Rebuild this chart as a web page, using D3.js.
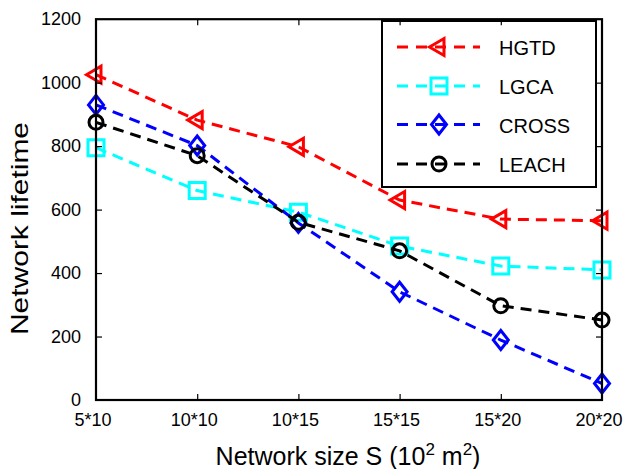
<!DOCTYPE html>
<html>
<head>
<meta charset="utf-8">
<script src="https://cdn.jsdelivr.net/npm/d3@7"></script>
<style>
  html, body { margin: 0; padding: 0; background: #fff; }
  svg { display: block; font-family: "Liberation Sans", Arial, Helvetica, sans-serif; }
</style>
</head>
<body>
<svg id="chart" width="624" height="469"></svg>
<script>
// ---- data ----
const categories = ["5*10", "10*10", "10*15", "15*15", "15*20", "20*20"];
const hgtd  = [1025, 882, 798, 630, 570, 565];
const lgca  = [795, 660, 592, 485, 422, 410];
const cross = [930, 802, 558, 341, 189, 52];
const leach = [875, 770, 560, 470, 297, 252];
const yTicks = [0, 200, 400, 600, 800, 1000, 1200];
const seriesNames = ["HGTD", "LGCA", "CROSS", "LEACH"];

// ---- layout ----
const L = 96, R = 602, T = 19.2, B = 400;
const svg = d3.select("#chart");

const x = d3.scalePoint().domain(categories).range([L, R]);
const y = d3.scaleLinear().domain([0, 1200]).range([B, T]);

const series = [
  { name: seriesNames[0], values: hgtd,  color: "#ff0000", marker: "triLeft" },
  { name: seriesNames[1], values: lgca,  color: "#00ffff", marker: "square" },
  { name: seriesNames[2], values: cross, color: "#0000ff", marker: "diamond" },
  { name: seriesNames[3], values: leach, color: "#000000", marker: "circle" }
];

function markerPath(type) {
  switch (type) {
    case "triLeft": return "M-9.5,0L5,-8.5L5,8.5Z";
    case "square":  return "M-8,-8L8,-8L8,8L-8,8Z";
    case "diamond": return "M0,-9.5L7.5,0L0,9.5L-7.5,0Z";
    default: return null;
  }
}
function drawMarker(g, type, cx, cy, color) {
  if (type === "circle") {
    g.append("circle").attr("cx", cx).attr("cy", cy).attr("r", 7)
      .attr("fill", "none").attr("stroke", color).attr("stroke-width", 3);
  } else {
    g.append("path").attr("d", markerPath(type))
      .attr("transform", `translate(${cx},${cy})`)
      .attr("fill", "none").attr("stroke", color).attr("stroke-width", 3)
      .attr("stroke-linejoin", "miter");
  }
}

// ---- series ----
const line = d3.line().x((d, i) => x(categories[i])).y(d => y(d));
const plotG = svg.append("g");
series.forEach(s => {
  const g = plotG.append("g");
  g.append("path").datum(s.values).attr("d", line)
    .attr("fill", "none").attr("stroke", s.color).attr("stroke-width", 3)
    .attr("stroke-dasharray", "11,7");
  s.values.forEach((v, i) => drawMarker(g, s.marker, x(categories[i]), y(v), s.color));
});

// ---- legend ----
const lg = svg.append("g");
lg.append("rect").attr("x", 382).attr("y", 21).attr("width", 214).attr("height", 166)
  .attr("fill", "#fff").attr("stroke", "#000").attr("stroke-width", 2);
const legendY = [47, 86, 124.5, 164];
series.forEach((s, i) => {
  const cy = legendY[i];
  lg.append("line").attr("x1", 397).attr("x2", 480).attr("y1", cy).attr("y2", cy)
    .attr("stroke", s.color).attr("stroke-width", 3).attr("stroke-dasharray", "11,8");
  drawMarker(lg, s.marker, 439, cy, s.color);
  lg.append("text").attr("x", 499).attr("y", cy + 8).attr("font-size", 20)
    .attr("fill", "#000").text(s.name);
});

// ---- axes ----
const axG = svg.append("g");
const axBottom = axG.append("g").attr("transform", `translate(0,${B})`)
  .call(d3.axisBottom(x).tickSizeInner(-6).tickSizeOuter(0).tickPadding(13.2));
const axLeft = axG.append("g").attr("transform", `translate(${L},0)`)
  .call(d3.axisLeft(y).tickValues(yTicks).tickSizeInner(-6).tickSizeOuter(0).tickPadding(15).tickFormat(d3.format("d")));
const axTop = axG.append("g").attr("transform", `translate(0,${T})`)
  .call(d3.axisTop(x).tickSizeInner(-6).tickSizeOuter(0).tickFormat(""));
const axRight = axG.append("g").attr("transform", `translate(${R},0)`)
  .call(d3.axisRight(y).tickValues(yTicks).tickSizeInner(-6).tickSizeOuter(0).tickFormat(""));

[axBottom, axLeft, axTop, axRight].forEach(g => {
  g.select(".domain").remove();
  g.selectAll(".tick line").attr("stroke", "#000").attr("stroke-width", 1.2);
  g.selectAll(".tick text").attr("fill", "#000").attr("font-size", 18)
    .attr("font-family", "Liberation Sans, Arial, sans-serif");
});
axBottom.selectAll(".tick text").attr("dx", -3.5);
[axBottom, axTop].forEach(g => g.selectAll(".tick")
  .filter(d => d === categories[0] || d === categories[categories.length - 1]).select("line").remove());
[axLeft, axRight].forEach(g => g.selectAll(".tick")
  .filter(d => d === yTicks[0] || d === yTicks[yTicks.length - 1]).select("line").remove());

axG.append("rect").attr("x", L).attr("y", T).attr("width", R - L).attr("height", B - T)
  .attr("fill", "none").attr("stroke", "#000").attr("stroke-width", 2.2);

// ---- axis titles ----
const xt = svg.append("text").attr("x", 348).attr("y", 465).attr("text-anchor", "middle")
  .attr("font-size", 25).attr("fill", "#000");
xt.append("tspan").text("Network size S (10");
xt.append("tspan").attr("font-size", 17).attr("dy", -10).text("2");
xt.append("tspan").attr("dy", 10).text(" m");
xt.append("tspan").attr("font-size", 17).attr("dy", -10).text("2");
xt.append("tspan").attr("dy", 10).text(")");

svg.append("text").attr("transform", "translate(27.5,228.5) rotate(-90)")
  .attr("text-anchor", "middle").attr("font-size", 24).attr("fill", "#000")
  .attr("textLength", 213).attr("lengthAdjust", "spacingAndGlyphs")
  .text("Network lifetime");
</script>
</body>
</html>
